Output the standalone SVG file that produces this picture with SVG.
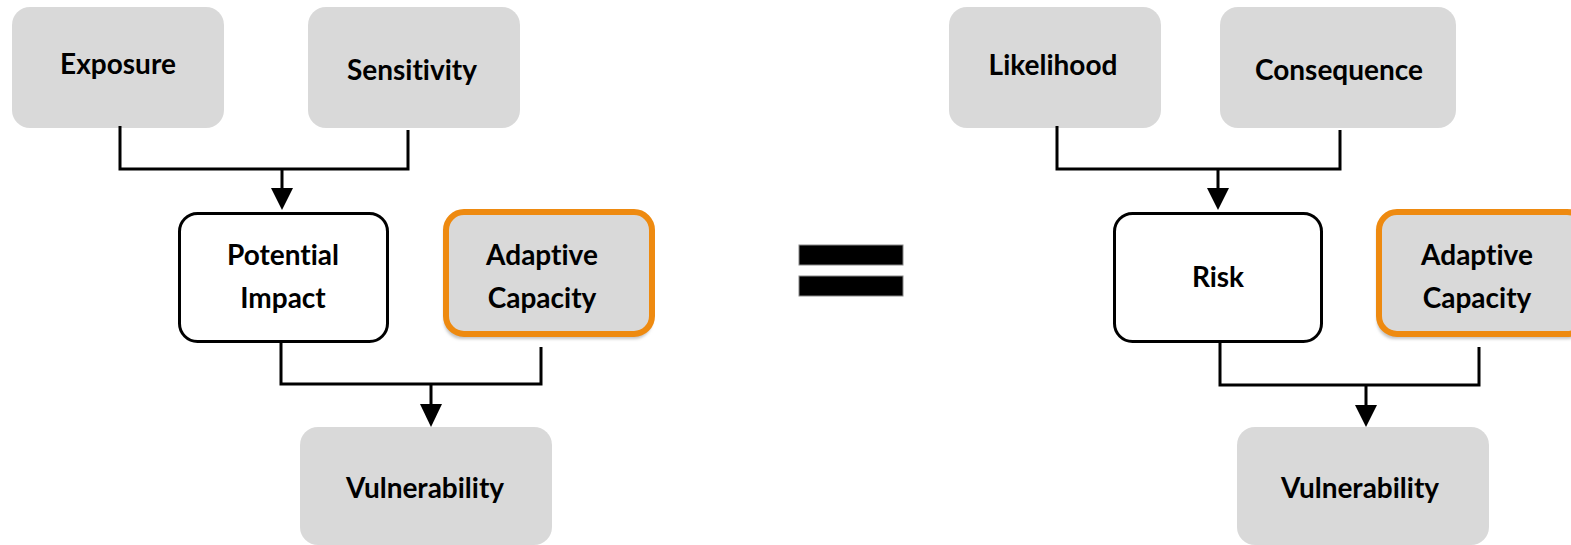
<svg xmlns="http://www.w3.org/2000/svg" width="1571" height="545" viewBox="0 0 1571 545">
<style>
.g{fill:#d9d9d9;}
.w{fill:#ffffff;stroke:#000;stroke-width:3;}
.o{fill:#d9d9d9;stroke:#ee8a10;stroke-width:6;}
.sh{fill:#c4c4c4;filter:url(#blur);}
.t{font-family:Lato,"Noto Sans",sans-serif;font-weight:bold;font-size:28px;fill:#000;text-anchor:middle;font-variant-ligatures:none;font-feature-settings:"liga" 0;}
.c{fill:none;stroke:#000;stroke-width:3;}
.a{fill:#000;}
</style>
<defs>
<filter id="blur" x="-10%" y="-10%" width="120%" height="130%"><feGaussianBlur stdDeviation="1.5"/></filter>
</defs>
<rect width="1571" height="545" fill="#fff"/>
<g id="exposure"><rect class="g" x="12" y="7" width="212" height="121" rx="18"/><text class="t" x="118" y="74">Exposure</text></g>
<g id="sensitivity"><rect class="g" x="308" y="7" width="212" height="121" rx="18"/><text class="t" x="412" y="80">Sensitivity</text></g>
<g id="potential-impact"><rect class="w" x="179.5" y="213.5" width="208" height="128" rx="18"/><text class="t" x="283" y="265">Potential</text><text class="t" x="283" y="308">Impact</text></g>
<g id="adaptive-capacity-left"><rect class="sh" x="444" y="215" width="208" height="124" rx="18"/><rect class="o" x="446" y="212" width="206" height="122" rx="18"/><text class="t" x="542" y="265">Adaptive</text><text class="t" x="542" y="308">Capacity</text></g>
<g id="vulnerability-left"><rect class="g" x="300" y="427" width="252" height="118" rx="18"/><text class="t" x="425" y="498">Vulnerability</text></g>
<g id="equals"><rect x="799" y="245" width="104" height="20" fill="#000" stroke="#888" stroke-width="1"/><rect x="799" y="276" width="104" height="20" fill="#000" stroke="#888" stroke-width="1"/></g>
<g id="likelihood"><rect class="g" x="949" y="7" width="212" height="121" rx="18"/><text class="t" x="1053" y="75">Likelihood</text></g>
<g id="consequence"><rect class="g" x="1220" y="7" width="236" height="121" rx="18"/><text class="t" x="1339" y="80">Consequence</text></g>
<g id="risk"><rect class="w" x="1114.5" y="213.5" width="207" height="128" rx="18"/><text class="t" x="1218" y="287">Risk</text></g>
<g id="adaptive-capacity-right"><rect class="sh" x="1377" y="215" width="208" height="124" rx="18"/><rect class="o" x="1379" y="212" width="206" height="122" rx="18"/><text class="t" x="1477" y="265">Adaptive</text><text class="t" x="1477" y="308">Capacity</text></g>
<g id="vulnerability-right"><rect class="g" x="1237" y="427" width="252" height="118" rx="18"/><text class="t" x="1360" y="498">Vulnerability</text></g>
<g id="connectors">
<path class="c" d="M120 126 V169 H408 V130 M282 169 V190"/>
<polygon class="a" points="271,188 293,188 282,210"/>
<path class="c" d="M281 342 V384 H541 V347 M431 384 V406"/>
<polygon class="a" points="420,404 442,404 431,427"/>
<path class="c" d="M1057 126 V169 H1340 V130 M1218 169 V190"/>
<polygon class="a" points="1207,188 1229,188 1218,210"/>
<path class="c" d="M1220 342 V385 H1479 V347 M1366 385 V407"/>
<polygon class="a" points="1355,405 1377,405 1366,427"/>
</g>
</svg>
